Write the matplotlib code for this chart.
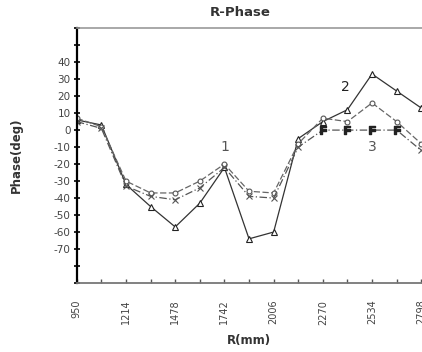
import matplotlib
matplotlib.use("Agg")
import matplotlib.pyplot as plt
import numpy as np

r_mm = [950, 1082, 1214, 1346, 1478, 1610, 1742, 1874, 2006, 2138, 2270, 2402, 2534, 2666, 2798]
series_tri = [6, 3, -32, -45, -57, -43, -22, -64, -60, -5, 5, 12, 33, 23, 13]
series_circ = [7, 2, -30, -37, -37, -30, -20, -36, -37, -8, 7, 5, 16, 5, -8]
series_x = [5, 1, -33, -39, -41, -34, -22, -39, -40, -10, 0, 0, 0, 0, -12]
xtick_vals = [950, 1214, 1478, 1742, 2006, 2270, 2534, 2798]
ytick_labels = [40, 30, 20, 10, 0, -10, -20, -30, -40, -50, -60, -70]

fig = plt.figure(figsize=(4.22, 3.52), dpi=100)
ax = fig.add_axes([0.182, 0.196, 0.818, 0.724])

ax.plot(r_mm, series_tri, color="#333333", lw=0.9, ls="-", marker="^", ms=4,
        mfc="white", mec="#222222", mew=0.8)
ax.plot(r_mm, series_circ, color="#666666", lw=0.9, ls=(0, (5, 2)), marker="o", ms=3.5,
        mfc="white", mec="#555555", mew=0.8)
ax.plot(r_mm, series_x, color="#555555", lw=0.9, ls=(0, (6, 2, 1, 2)), marker="x", ms=4,
        mec="#555555", mew=0.8, markevery=list(range(0, 10)) + [14])
ax.plot(r_mm[10:14], series_x[10:14], ls="none", marker="$\\mathbf{F}$", ms=6,
        color="#222222")

ax.text(1742, -14, "1", fontsize=10, color="#555555", ha="center", va="bottom")
ax.text(2390, 21, "2", fontsize=10, color="#222222", ha="center", va="bottom")
ax.text(2534, -6, "3", fontsize=10, color="#555555", ha="center", va="top")

ax.set_xlim(950, 2802)
ax.set_ylim(-90, 60)
ax.set_xticks(xtick_vals)
ax.set_xticklabels([str(v) for v in xtick_vals], rotation=90, fontsize=7, color="#444444")
ax.set_xticks(np.arange(1082, 2800, 264), minor=True)
ax.set_yticks(np.arange(-90, 61, 10))
ax.set_yticklabels([str(v) if v in ytick_labels else "" for v in np.arange(-90, 61, 10)],
                   fontsize=7.5, color="#444444")
ax.tick_params(axis="y", direction="inout", length=5, width=1.2, color="black", pad=2)
ax.tick_params(axis="x", which="both", direction="in", length=3, width=1, color="#555555", pad=12)

ax.spines["right"].set_visible(False)
ax.spines["left"].set_linewidth(1.6)
ax.spines["left"].set_color("black")
ax.spines["bottom"].set_linewidth(1.3)
ax.spines["bottom"].set_color("#777777")
ax.spines["top"].set_linewidth(1.2)
ax.spines["top"].set_color("#999999")

fig.text(0.57, 0.965, "R-Phase", fontsize=9.5, fontweight="bold", ha="center", va="center",
         color="#333333")
ax.set_xlabel("R(mm)", fontsize=8.5, fontweight="bold", color="#333333")
ax.xaxis.set_label_coords(0.5, -0.2)
ax.set_ylabel("Phase(deg)", fontsize=8.5, fontweight="bold", color="#333333")
ax.yaxis.set_label_coords(-0.155, 0.5)

fig.savefig("out.png", dpi=100)
